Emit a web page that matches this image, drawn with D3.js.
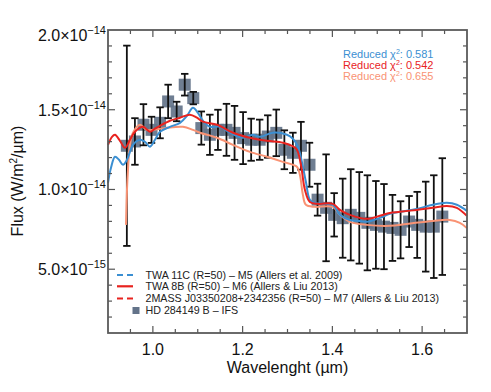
<!DOCTYPE html>
<html><head><meta charset="utf-8">
<script src="https://cdn.jsdelivr.net/npm/d3@7/dist/d3.min.js"></script>
<style>
body{margin:0;background:#fff;}
svg{display:block;font-family:"Liberation Sans",Arial,Helvetica,sans-serif;}
</style>
</head><body>
<svg id="chart" width="491" height="392"></svg>
<script>
// ---- Data (flux in units of 1e-14 W/m^2/um) ----
const wavelength = [0.942,0.960,0.979,0.997,1.016,1.034,1.053,1.071,1.090,1.108,1.127,1.145,1.164,1.182,1.201,1.219,1.238,1.256,1.275,1.293,1.312,1.330,1.349,1.367,1.386,1.404,1.423,1.441,1.460,1.478,1.497,1.515,1.534,1.552,1.571,1.589,1.608,1.626,1.645];
const flux = [1.274,1.301,1.406,1.374,1.418,1.552,1.489,1.657,1.573,1.385,1.343,1.374,1.374,1.355,1.322,1.312,1.312,1.332,1.355,1.249,1.230,1.274,1.155,0.936,0.885,0.841,0.820,0.841,0.822,0.791,0.778,0.767,0.759,0.747,0.799,0.778,0.767,0.767,0.830];
const fluxErr = [0.628,0.146,0.129,0.082,0.097,0.105,0.061,0.068,0.039,0.104,0.126,0.126,0.163,0.169,0.163,0.132,0.126,0.133,0.146,0.122,0.126,0.150,0.138,0.100,0.335,0.136,0.248,0.286,0.287,0.298,0.275,0.267,0.207,0.179,0.160,0.207,0.282,0.322,0.366];

const twa11cWave = [0.900,0.9067,0.9156,0.9245,0.9334,0.9423,0.9557,0.9713,0.9824,0.9935,1.0047,1.0158,1.0381,1.0604,1.0759,1.0893,1.1004,1.1116,1.1272,1.1494,1.1717,1.2007,1.2229,1.2385,1.2675,1.2987,1.3120,1.3232,1.3321,1.3410,1.3499,1.3610,1.3833,1.4011,1.4167,1.4390,1.4612,1.4768,1.5058,1.5281,1.5503,1.5882,1.6238,1.6550,1.6773,1.6996];
const twa11cFlux = [1.042,1.136,1.205,1.186,1.155,1.186,1.280,1.312,1.299,1.268,1.312,1.362,1.393,1.418,1.462,1.512,1.481,1.431,1.393,1.393,1.356,1.324,1.343,1.330,1.356,1.343,1.318,1.268,1.173,1.048,0.935,0.916,0.910,0.904,0.841,0.809,0.803,0.797,0.822,0.847,0.860,0.878,0.904,0.916,0.904,0.866];

const twa8bWave = [0.900,0.9089,0.9156,0.9267,0.9379,0.9490,0.9601,0.9780,0.9935,1.0047,1.0158,1.0381,1.0604,1.0826,1.0982,1.1116,1.1428,1.1784,1.2163,1.2541,1.2898,1.3098,1.3210,1.3299,1.3388,1.3499,1.3677,1.4011,1.4167,1.4390,1.4768,1.5058,1.5281,1.5503,1.5882,1.6238,1.6550,1.6773,1.6996];
const twa8bFlux = [1.280,1.330,1.343,1.305,1.261,1.312,1.362,1.393,1.362,1.381,1.399,1.431,1.450,1.469,1.450,1.425,1.406,1.356,1.324,1.305,1.293,1.274,1.249,1.155,0.998,0.922,0.910,0.910,0.872,0.841,0.816,0.835,0.853,0.860,0.872,0.885,0.897,0.885,0.835];

const j0335Wave = [0.9401,0.9423,0.9445,0.9490,0.9557,0.9713,0.9862,1.0002,1.0314,1.0670,1.0893,1.1049,1.1428,1.1784,1.2163,1.2541,1.2898,1.3210,1.3276,1.3343,1.3410,1.3610,1.4011,1.4167,1.4390,1.4768,1.5281,1.5659,1.6238,1.6617,1.6840,1.6996];
const j0335Flux = [0.778,0.998,1.123,1.280,1.356,1.406,1.374,1.374,1.387,1.393,1.374,1.356,1.324,1.280,1.236,1.205,1.173,1.142,1.092,0.966,0.904,0.891,0.891,0.841,0.797,0.778,0.772,0.784,0.803,0.809,0.791,0.759];

const legendLabels = ["TWA 11C (R=50) \u2013 M5 (Allers et al. 2009)","TWA 8B (R=50) \u2013 M6 (Allers & Liu 2013)","2MASS J03350208+2342356 (R=50) \u2013 M7 (Allers & Liu 2013)","HD 284149 B \u2013 IFS"];
const chiValues = ["0.581","0.542","0.655"];
const xTickValues = [1.0,1.2,1.4,1.6];
const xTickLabels = ["1.0","1.2","1.4","1.6"];
const yTickValues = [0.5,1.0,1.5,2.0];
const yTickMantissa = ["5.0","1.0","1.5","2.0"];
const yTickExponent = ["\u221215","\u221214","\u221214","\u221214"];

// ---- Layout ----
const colBlue = "#3b8fd2", colRed = "#e8231f", colSalmon = "#f99374", colPt = "#637389";
const svg = d3.select("#chart");
const L = 108, R = 467, T = 30, B = 333;
const x = d3.scaleLinear().domain([0.9,1.7]).range([L,R]);
const y = d3.scaleLinear().domain([0.1,2.0]).range([B,T]);

function tickAxes(){
  const minorX = d3.range(0.9,1.7001,0.05).filter(v=>v>0.901&&v<1.699);
  const minorY = d3.range(0.1,2.0001,0.1).filter(v=>v>0.101&&v<1.999);
  const g = svg.append("g").attr("stroke","#555").attr("stroke-width",1.2);
  const isMajX = v => xTickValues.some(t=>Math.abs(t-v)<1e-6);
  const isMajY = v => yTickValues.some(t=>Math.abs(t-v)<1e-6);
  minorX.forEach(v=>{
    const len = isMajX(v)?7:4;
    g.append("line").attr("x1",x(v)).attr("x2",x(v)).attr("y1",B).attr("y2",B-len);
    g.append("line").attr("x1",x(v)).attr("x2",x(v)).attr("y1",T).attr("y2",T+len);
  });
  minorY.forEach(v=>{
    const len = isMajY(v)?7:4;
    g.append("line").attr("y1",y(v)).attr("y2",y(v)).attr("x1",L).attr("x2",L+len);
    g.append("line").attr("y1",y(v)).attr("y2",y(v)).attr("x1",R).attr("x2",R-len);
  });
}

// points (squares)
const pts = wavelength.map((w,i)=>({w, f:flux[i], e:fluxErr[i]}));
svg.append("g").selectAll("rect").data(pts).enter().append("rect")
  .attr("x",d=>x(d.w)-6).attr("y",d=>y(d.f)-6).attr("width",12).attr("height",12)
  .attr("fill",colPt).attr("opacity",0.92);

// error bars
const eb = svg.append("g").attr("stroke","#111").attr("stroke-width",1.8);
pts.forEach(d=>{
  eb.append("line").attr("x1",x(d.w)).attr("x2",x(d.w)).attr("y1",y(d.f+d.e)).attr("y2",y(d.f-d.e));
  eb.append("line").attr("x1",x(d.w)-3.7).attr("x2",x(d.w)+3.7).attr("y1",y(d.f+d.e)).attr("y2",y(d.f+d.e));
  eb.append("line").attr("x1",x(d.w)-3.7).attr("x2",x(d.w)+3.7).attr("y1",y(d.f-d.e)).attr("y2",y(d.f-d.e));
});

// model curves
const line = d3.line().x(d=>x(d[0])).y(d=>y(d[1])).curve(d3.curveCatmullRom.alpha(0.5));
const curves = [
  {w:j0335Wave, f:j0335Flux, c:colSalmon},
  {w:twa11cWave, f:twa11cFlux, c:colBlue},
  {w:twa8bWave, f:twa8bFlux, c:colRed}
];
curves.forEach(cv=>{
  svg.append("path").attr("d",line(cv.w.map((w,i)=>[w,cv.f[i]])))
    .attr("fill","none").attr("stroke",cv.c).attr("stroke-width",2);
});

// frame
tickAxes();
svg.append("rect").attr("x",L).attr("y",T).attr("width",R-L).attr("height",B-T)
  .attr("fill","none").attr("stroke","#5a5a5a").attr("stroke-width",1.8);

// x tick labels
svg.append("g").selectAll("text").data(xTickValues).enter().append("text")
  .attr("x",d=>x(d)).attr("y",B+22).attr("text-anchor","middle")
  .attr("font-size",16).attr("fill","#111").text((d,i)=>xTickLabels[i]);
svg.append("text").attr("x",(L+R)/2).attr("y",B+40).attr("text-anchor","middle")
  .attr("font-size",16).attr("fill","#111").text("Wavelenght (\u00b5m)");

// y tick labels
yTickValues.forEach((v,i)=>{
  const yy = Math.max(y(v), T+5);
  const t = svg.append("text").attr("x",L-2).attr("y",yy+6).attr("text-anchor","end")
    .attr("font-size",16).attr("fill","#111");
  t.append("tspan").text(yTickMantissa[i]+"\u00d710");
  t.append("tspan").attr("dy",-7).attr("font-size",11).text(yTickExponent[i]);
});
const yl = svg.append("text").attr("transform","translate(23,181) rotate(-90)")
  .attr("text-anchor","middle").attr("font-size",16).attr("fill","#111");
yl.append("tspan").text("Flux (W/m");
yl.append("tspan").attr("dy",-6).attr("font-size",10).text("2");
yl.append("tspan").attr("dy",6).text("/\u00b5m)");

// chi-square labels
const chiCols = [colBlue, colRed, colSalmon];
chiValues.forEach((v,i)=>{
  const t = svg.append("text").attr("x",343).attr("y",58+i*11).attr("font-size",11).attr("fill",chiCols[i]);
  t.append("tspan").text("Reduced \u03c7");
  t.append("tspan").attr("dy",-4).attr("font-size",7).text("2");
  t.append("tspan").attr("dy",4).text(": "+v);
});

// legend
const legY = [275,286.3,298.5,310.5];
const lg = svg.append("g");
lg.append("line").attr("x1",117).attr("x2",133).attr("y1",legY[0]).attr("y2",legY[0])
  .attr("stroke",colBlue).attr("stroke-width",2.2).attr("stroke-dasharray","6,4");
lg.append("line").attr("x1",117).attr("x2",133).attr("y1",legY[1]).attr("y2",legY[1])
  .attr("stroke",colRed).attr("stroke-width",2.2);
lg.append("line").attr("x1",117).attr("x2",133).attr("y1",legY[2]).attr("y2",legY[2])
  .attr("stroke",colRed).attr("stroke-width",2.2).attr("stroke-dasharray","6,4");
lg.append("rect").attr("x",132.5).attr("y",legY[3]-3.5).attr("width",7).attr("height",7).attr("fill",colPt);
legendLabels.forEach((s,i)=>{
  lg.append("text").attr("x",145.5).attr("y",legY[i]+3.8).attr("font-size",10.7).attr("fill","#222").text(s);
});
</script>
</body></html>
